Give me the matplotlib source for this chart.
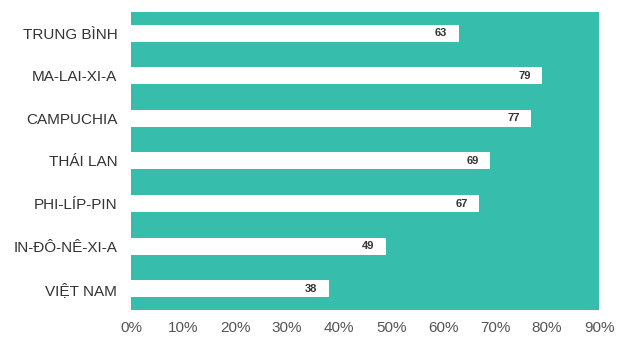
import matplotlib
matplotlib.use("Agg")
import matplotlib.pyplot as plt

countries = ["TRUNG BÌNH", "MA-LAI-XI-A", "CAMPUCHIA", "THÁI LAN",
             "PHI-LÍP-PIN", "IN-ĐÔ-NÊ-XI-A", "VIỆT NAM"]
values = [63, 79, 77, 69, 67, 49, 38]
ticks = [0, 10, 20, 30, 40, 50, 60, 70, 80, 90]

plt.rcParams["font.family"] = ["Liberation Sans", "DejaVu Sans"]

fig = plt.figure(figsize=(6.4, 3.6), dpi=100)
ax = fig.add_axes([0.205, 0.139, 0.731, 0.828])
ax.set_facecolor("#36bdab")

pos = list(range(len(countries)))
ax.barh(pos, values, height=0.4, color="white")

for p, v in zip(pos, values):
    ax.text(v - 2.2, p, str(v), ha="right", va="center",
            fontsize=8, fontweight="bold", color="#333333")

ax.set_xlim(0, 90)
ax.set_ylim(len(countries) - 0.5, -0.5)
ax.set_xticks(ticks)
ax.set_xticklabels([f"{t}%" for t in ticks], color="#555555", fontsize=11)
ax.set_yticks(pos)
ax.set_yticklabels(countries, color="#333333", fontsize=11)
ax.tick_params(length=0, pad=8)
ax.tick_params(axis="y", pad=10)
for s in ax.spines.values():
    s.set_visible(False)

fig.savefig("out.png", dpi=100, facecolor="white")
